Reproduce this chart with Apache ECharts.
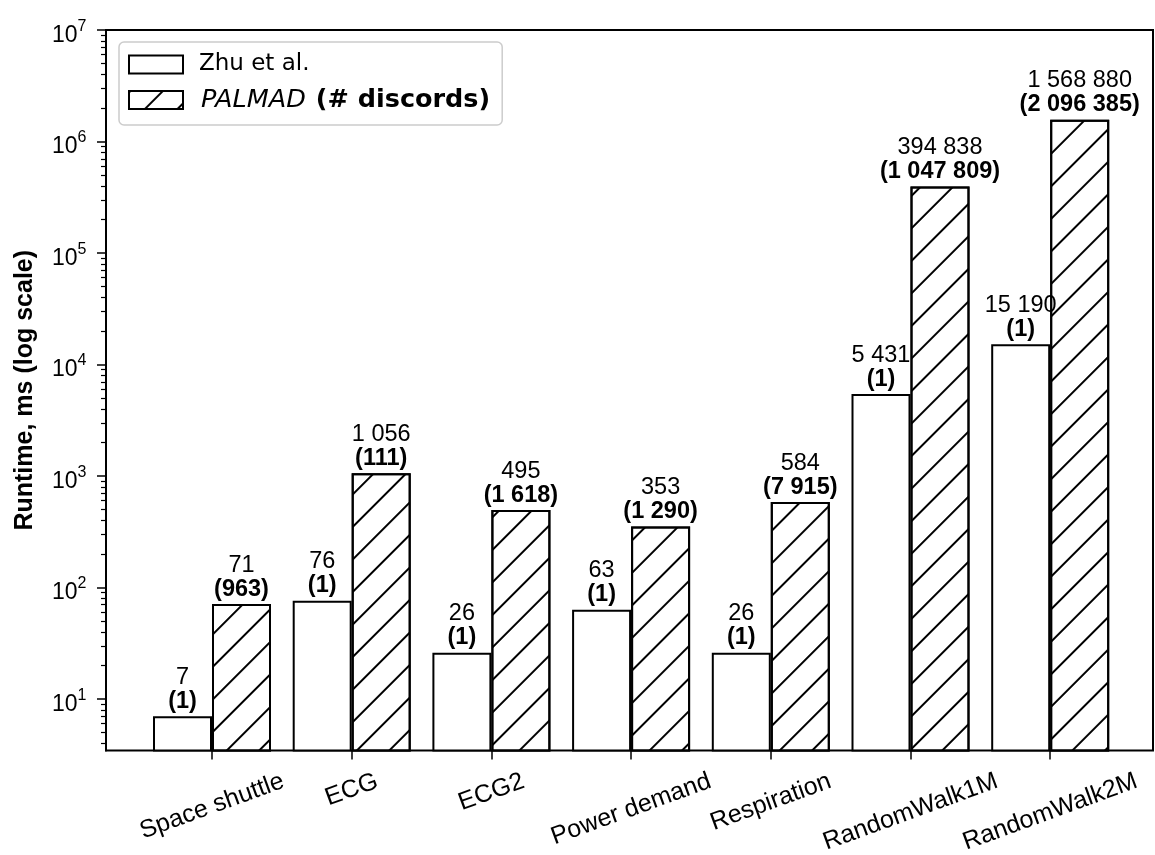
<!DOCTYPE html>
<html>
<head>
<meta charset="utf-8">
<script src="https://cdn.jsdelivr.net/npm/echarts@6/dist/echarts.min.js"></script>
<style>
  html, body { margin: 0; padding: 0; background: #fff; }
  #chart { width: 1155px; height: 855px; }
</style>
</head>
<body>
<div id="chart"></div>
<script>
// Runtime per dataset (ms) and number of discords found
const categories = ['Space shuttle', 'ECG', 'ECG2', 'Power demand', 'Respiration', 'RandomWalk1M', 'RandomWalk2M'];
const zhuRuntime = [7, 76, 26, 63, 26, 5431, 15190];
const zhuDiscords = [1, 1, 1, 1, 1, 1, 1];
const palmadRuntime = [71, 1056, 495, 353, 584, 394838, 1568880];
const palmadDiscords = [963, 111, 1618, 1290, 7915, 1047809, 2096385];
const yMajorTicks = [10, 100, 1000, 10000, 100000, 1000000, 10000000];
const yMin = 3.45, yMax = 1e7;

// minor log ticks 2..9 x 10^k inside the axis range
const yMinorTicks = [];
for (let dec = 1; dec < yMax; dec *= 10) {
  for (let d = 2; d <= 9; d++) {
    const v = d * dec;
    if (v >= yMin && v <= yMax) yMinorTicks.push(v);
  }
}

const SANS = '"Liberation Sans", Arial, sans-serif';
const DJV = '"DejaVu Sans", sans-serif';

// frame of the plot area
const frame = { left: 106, top: 30, right: 1153, bottom: 750.5 };
const band = 139.7, firstCenter = 212;
const barsLeft = firstCenter - band / 2;

const fmt = n => String(n).replace(/\B(?=(\d{3})+(?!\d))/g, ' ');

// rotated category labels hang from a common top line, centred on the tick
const CAT_ROT = 20, CAT_FS = 25;
const rad = CAT_ROT * Math.PI / 180;
const mctx = document.createElement('canvas').getContext('2d');
mctx.font = CAT_FS + 'px ' + SANS;
const catRich = {};
categories.forEach((c, i) => {
  const L = mctx.measureText(c).width;
  const D = (L * Math.sin(rad) + CAT_FS * 1.15 * Math.cos(rad)) / 2;
  catRich['c' + i] = {
    fontFamily: SANS, fontSize: CAT_FS, color: '#000',
    padding: [2 * D * Math.cos(rad), 2 * D * Math.sin(rad), 0, 0]
  };
});

const VAL_FS = 23.5;
const valueRich = {
  v: { fontFamily: SANS, fontSize: VAL_FS, color: '#000', lineHeight: 24 },
  b: { fontFamily: SANS, fontSize: VAL_FS, color: '#000', lineHeight: 24, fontWeight: 'bold' }
};

// "/" hatching
const hatch = {
  symbol: 'rect', symbolSize: 1, color: '#000',
  dashArrayX: [1, 0], dashArrayY: [2, 21], rotation: -Math.PI / 4
};

const chart = echarts.init(document.getElementById('chart'), null, { renderer: 'canvas' });
chart.setOption({
  backgroundColor: '#fff',
  animation: false,
  grid: [
    { left: frame.left, top: frame.top, width: frame.right - frame.left, height: frame.bottom - frame.top,
      show: true, borderColor: '#000', borderWidth: 2, backgroundColor: 'transparent', outerBoundsMode: 'none' },
    { left: barsLeft, top: frame.top, width: band * categories.length, height: frame.bottom - frame.top,
      show: false, outerBoundsMode: 'none' }
  ],
  legend: {
    left: 119, top: 42, orient: 'vertical', icon: 'rect',
    itemWidth: 54, itemHeight: 18, itemGap: 11,
    padding: [11, 12, 12, 9],
    borderColor: '#cccccc', borderWidth: 1.5, borderRadius: 5,
    backgroundColor: 'rgba(255,255,255,0.8)',
    data: ['Zhu et al.', 'PALMAD'],
    formatter: name => name === 'PALMAD' ? '{i|PALMAD}{bd|(# discords)}' : '{r|' + name + '}',
    textStyle: {
      fontFamily: DJV, fontSize: 23, color: '#000',
      rich: {
        r: { fontFamily: DJV, fontSize: 23, color: '#000', padding: [0, 0, 0, 11] },
        i: { fontFamily: DJV, fontSize: 25.5, color: '#000', fontStyle: 'italic', padding: [0, 0, 0, 13] },
        bd: { fontFamily: DJV, fontSize: 25.5, color: '#000', fontWeight: 'bold', padding: [0, 0, 0, 10] }
      }
    }
  },
  xAxis: [
    { gridIndex: 0, type: 'value', min: 0, max: 1, show: false },
    {
      gridIndex: 1, type: 'category', data: categories, boundaryGap: true,
      axisLine: { show: false },
      axisTick: { show: true, alignWithLabel: true, length: 9, lineStyle: { color: '#000', width: 1.5 } },
      axisLabel: {
        interval: 0, rotate: CAT_ROT, align: 'center', verticalAlign: 'middle', margin: 16.5,
        formatter: (v, i) => '{c' + i + '|' + v + '}', rich: catRich
      },
      splitLine: { show: false }
    }
  ],
  yAxis: [
    {
      gridIndex: 0, type: 'log', logBase: 10, min: yMin, max: yMax,
      name: 'Runtime, ms (log scale)', nameLocation: 'middle', nameGap: 68,
      nameTextStyle: { fontFamily: SANS, fontSize: 25, fontWeight: 'bold', color: '#000' },
      axisLine: { show: true, lineStyle: { color: '#000', width: 2 } },
      axisTick: { show: true, length: 9, customValues: yMajorTicks, lineStyle: { color: '#000', width: 1.5 } },
      axisLabel: {
        customValues: yMajorTicks, margin: 19.5, padding: [11, 0, 0, 0],
        formatter: v => '{b|10}{s|' + Math.round(Math.log10(v)) + '}',
        rich: {
          b: { fontFamily: SANS, fontSize: 23, color: '#000', lineHeight: 34 },
          s: { fontFamily: SANS, fontSize: 16, color: '#000', lineHeight: 15, verticalAlign: 'top' }
        }
      },
      splitLine: { show: false }, minorTick: { show: false }
    },
    {
      gridIndex: 0, type: 'log', logBase: 10, min: yMin, max: yMax, position: 'left',
      axisLine: { show: false },
      axisTick: { show: true, length: 5, customValues: yMinorTicks, lineStyle: { color: '#000', width: 1.2 } },
      axisLabel: { show: false }, splitLine: { show: false }
    },
    { gridIndex: 1, type: 'log', logBase: 10, min: yMin, max: yMax, show: false }
  ],
  series: [
    {
      name: 'Zhu et al.', type: 'bar', xAxisIndex: 1, yAxisIndex: 2,
      data: zhuRuntime, barWidth: 59, barGap: '0%', clip: true,
      itemStyle: { color: '#fff', borderColor: '#000', borderWidth: 2 },
      label: {
        show: true, position: 'top', distance: 3,
        formatter: p => '{v|' + fmt(zhuRuntime[p.dataIndex]) + '}\n{b|(' + fmt(zhuDiscords[p.dataIndex]) + ')}',
        rich: valueRich
      }
    },
    {
      name: 'PALMAD', type: 'bar', xAxisIndex: 1, yAxisIndex: 2,
      data: palmadRuntime, barWidth: 59, barGap: '0%', clip: true,
      itemStyle: { color: '#fff', borderColor: '#000', borderWidth: 2, decal: hatch },
      label: {
        show: true, position: 'top', distance: 3,
        formatter: p => '{v|' + fmt(palmadRuntime[p.dataIndex]) + '}\n{b|(' + fmt(palmadDiscords[p.dataIndex]) + ')}',
        rich: valueRich
      }
    }
  ]
});
</script>
</body>
</html>
